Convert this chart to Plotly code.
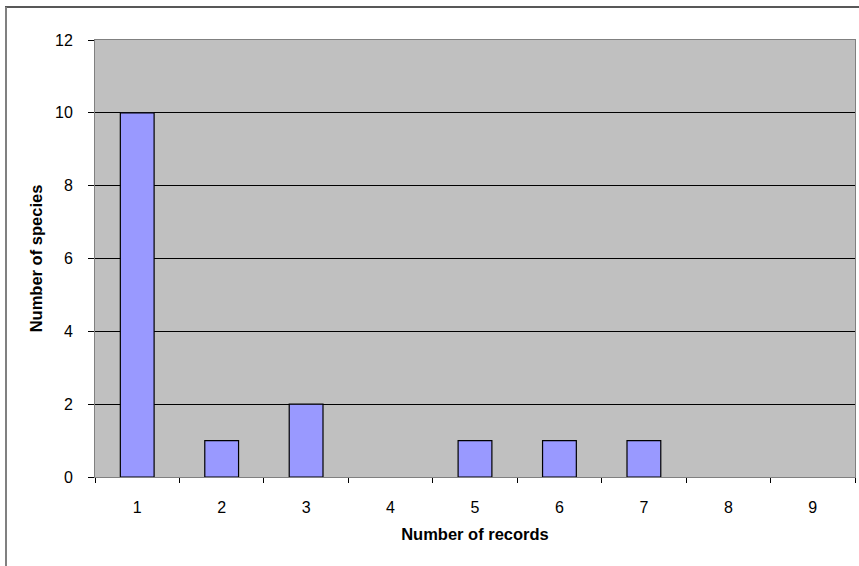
import plotly.graph_objects as go

# Histogram of species by number of records
records = ["1", "2", "3", "4", "5", "6", "7", "8", "9"]
species_counts = [10, 1, 2, 0, 1, 1, 1, 0, 0]
y_ticks = [0, 2, 4, 6, 8, 10, 12]

W, H = 859, 566
ML, MR, MT, MB = 95, 4, 40, 89
pw, ph = W - ML - MR, H - MT - MB

def px_x(p):
    return (p - ML) / pw

def px_y(p):
    return (H - MB - p) / ph

# empty categories get no outline so nothing is drawn on the baseline
outline_widths = [1.2 if v > 0 else 0 for v in species_counts]

fig = go.Figure(
    go.Bar(
        x=records,
        y=species_counts,
        marker=dict(color="#9999FF", line=dict(color="#000000", width=outline_widths)),
        width=0.4,
    )
)

font = dict(family="Liberation Sans, Arial, sans-serif", size=16, color="#000000")

fig.update_layout(
    width=W,
    height=H,
    margin=dict(l=ML, r=MR, t=MT, b=MB),
    paper_bgcolor="#FFFFFF",
    plot_bgcolor="#C0C0C0",
    showlegend=False,
    font=font,
    xaxis=dict(
        type="category",
        showgrid=False,
        ticks="outside",
        tickson="boundaries",
        ticklen=5,
        tickcolor="#000000",
        tickfont=dict(size=16),
        showline=True,
        linecolor="#808080",
        linewidth=1,
        mirror=True,
        ticklabelstandoff=16,
        title=dict(text="<b>Number of records</b>", font=dict(size=16.5), standoff=13),
    ),
    yaxis=dict(
        range=[0, 12],
        tickvals=y_ticks,
        showgrid=True,
        gridcolor="#000000",
        gridwidth=1,
        ticks="outside",
        ticklen=6,
        tickcolor="#000000",
        tickfont=dict(size=16),
        showline=True,
        linecolor="#808080",
        linewidth=1,
        mirror=True,
        zeroline=True,
        zerolinecolor="#000000",
        zerolinewidth=1,
        ticklabelstandoff=12,
        title=dict(text="<b>Number of species</b>", font=dict(size=16.5), standoff=8),
    ),
    shapes=[
        # chart frame: dark top edge, grey left edge
        dict(type="line", xref="paper", yref="paper",
             x0=px_x(5), x1=px_x(870), y0=px_y(7), y1=px_y(7),
             line=dict(color="#202020", width=1.5)),
        dict(type="line", xref="paper", yref="paper",
             x0=px_x(6), x1=px_x(6), y0=px_y(7), y1=px_y(575),
             line=dict(color="#808080", width=2)),
    ],
)

fig.write_html("out.html")
